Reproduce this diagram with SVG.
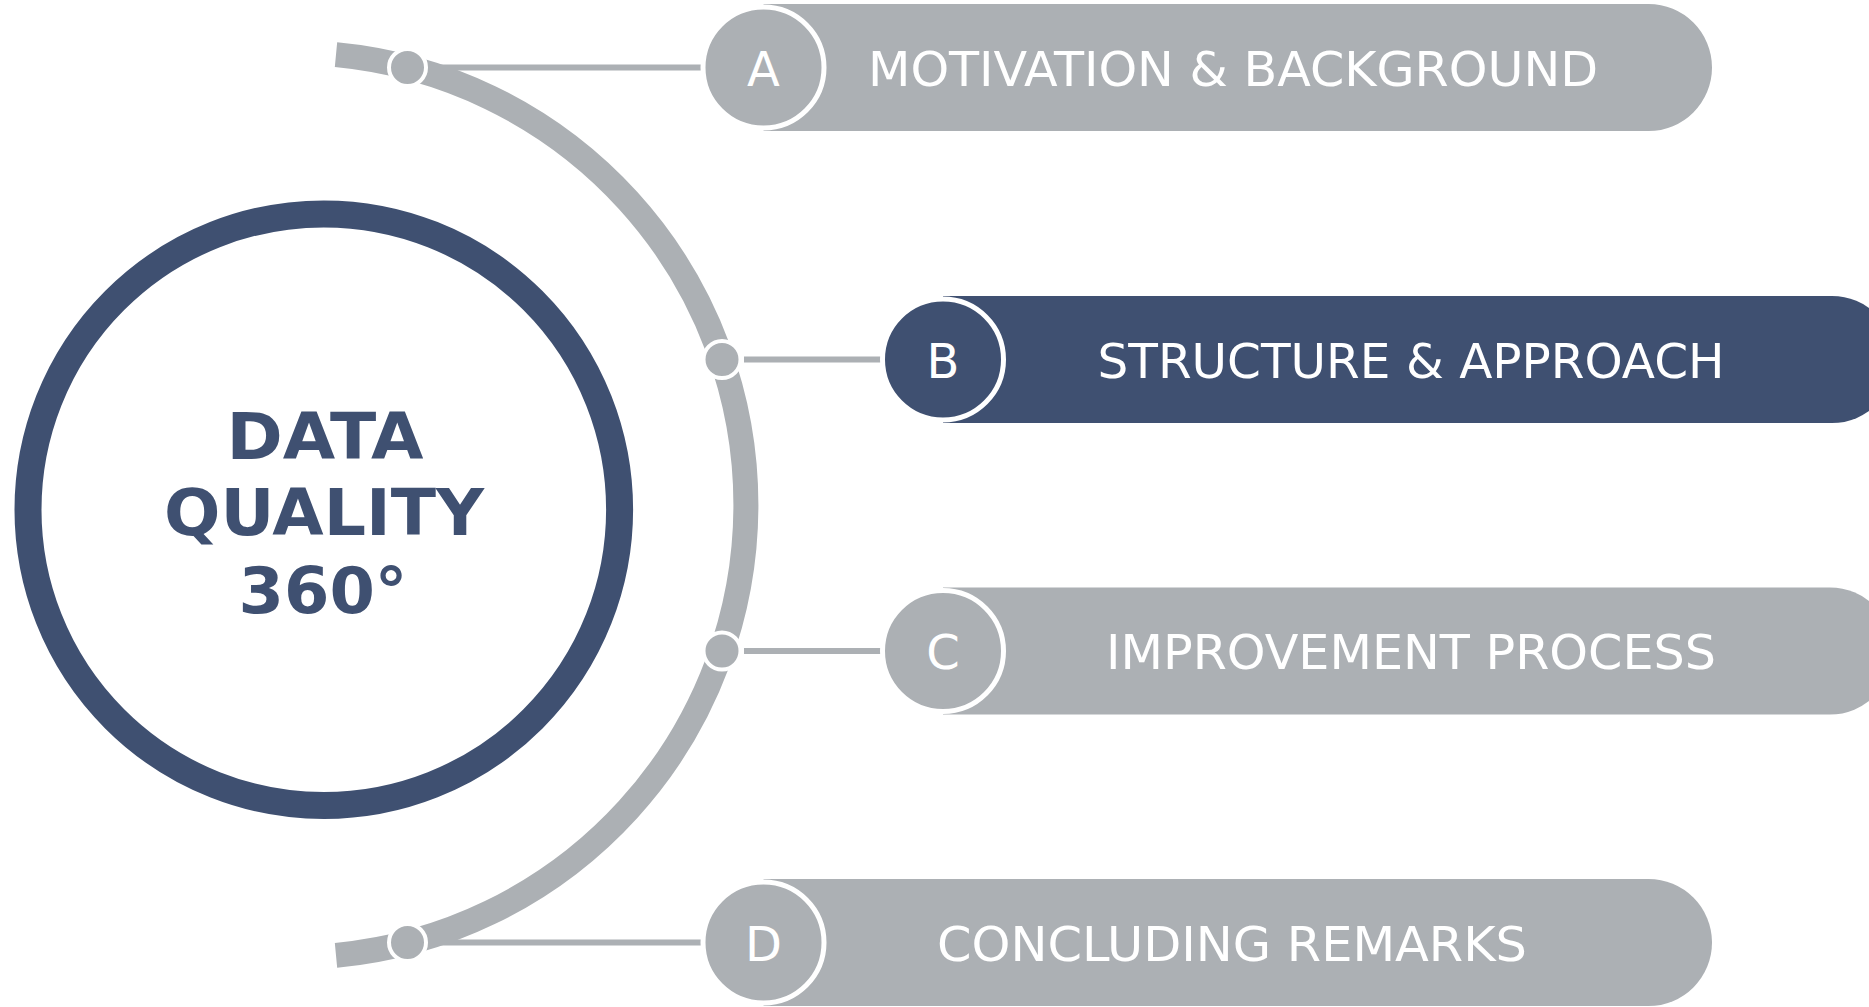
<svg xmlns="http://www.w3.org/2000/svg" width="1869" height="1007" viewBox="0 0 1869 1007">
  <style>
    .gray { fill: #ACB0B4; }
    .navy { fill: #3F5071; }
    .arc { fill: none; stroke: #ACB0B4; stroke-width: 25; }
    .link { stroke: #ACB0B4; stroke-width: 6; }
    .dot { fill: #ACB0B4; stroke: #FFFFFF; stroke-width: 4; }
    .badge { stroke: #FFFFFF; stroke-width: 5; }
    .label { font-family: "DejaVu Sans", Verdana, sans-serif; font-size: 48px; fill: #FFFFFF; text-anchor: middle; }
    .title { font-family: "DejaVu Sans", Verdana, sans-serif; font-weight: bold; font-size: 64px; fill: #3F5071; text-anchor: middle; }
  </style>
  <rect width="1869" height="1007" fill="#FFFFFF"/>

  <g id="connectors">
    <path class="arc" d="M 336 54.6 A 452.4 452.4 0 0 1 336 955.4"/>
    <line class="link" x1="428" y1="67.5" x2="712" y2="67.5"/>
    <line class="link" x1="744" y1="359.5" x2="890" y2="359.5"/>
    <line class="link" x1="744" y1="651" x2="890" y2="651"/>
    <line class="link" x1="428" y1="942.5" x2="712" y2="942.5"/>
    <circle class="dot" cx="407.5" cy="67.5" r="18.5"/>
    <circle class="dot" cx="722" cy="359.5" r="18.5"/>
    <circle class="dot" cx="722" cy="651" r="18.5"/>
    <circle class="dot" cx="407.5" cy="942.5" r="18.5"/>
  </g>

  <g id="center">
    <circle cx="323.8" cy="509.7" r="295.8" fill="none" stroke="#3F5071" stroke-width="27"/>
    <text class="title" x="325" y="458.5" textLength="197" lengthAdjust="spacingAndGlyphs">DATA</text>
    <text class="title" x="324" y="535" textLength="320" lengthAdjust="spacingAndGlyphs">QUALITY</text>
    <text class="title" x="323" y="613" textLength="169" lengthAdjust="spacingAndGlyphs">360°</text>
  </g>

  <g id="item-a">
    <path class="gray" d="M 763.5 4 H 1648.5 A 63.5 63.5 0 0 1 1648.5 131 H 763.5 Z"/>
    <circle class="gray badge" cx="763.5" cy="67.5" r="60.5"/>
    <text class="label" x="763.5" y="85.5">A</text>
    <text class="label" x="1233" y="85.5" textLength="730" lengthAdjust="spacingAndGlyphs">MOTIVATION &amp; BACKGROUND</text>
  </g>

  <g id="item-b">
    <path class="navy" d="M 943 296 H 1832 A 63.5 63.5 0 0 1 1832 423 H 943 Z"/>
    <circle class="navy badge" cx="943" cy="359.5" r="60.5"/>
    <text class="label" x="943" y="377.5">B</text>
    <text class="label" x="1411" y="377.5" textLength="627" lengthAdjust="spacingAndGlyphs">STRUCTURE &amp; APPROACH</text>
  </g>

  <g id="item-c">
    <path class="gray" d="M 943 587.5 H 1830 A 63.5 63.5 0 0 1 1830 714.5 H 943 Z"/>
    <circle class="gray badge" cx="943" cy="651" r="60.5"/>
    <text class="label" x="943" y="669">C</text>
    <text class="label" x="1411" y="669" textLength="610" lengthAdjust="spacingAndGlyphs">IMPROVEMENT PROCESS</text>
  </g>

  <g id="item-d">
    <path class="gray" d="M 763.5 879 H 1648.5 A 63.5 63.5 0 0 1 1648.5 1006 H 763.5 Z"/>
    <circle class="gray badge" cx="763.5" cy="942.5" r="60.5"/>
    <text class="label" x="763.5" y="960.5">D</text>
    <text class="label" x="1232" y="960.5" textLength="590" lengthAdjust="spacingAndGlyphs">CONCLUDING REMARKS</text>
  </g>
</svg>
